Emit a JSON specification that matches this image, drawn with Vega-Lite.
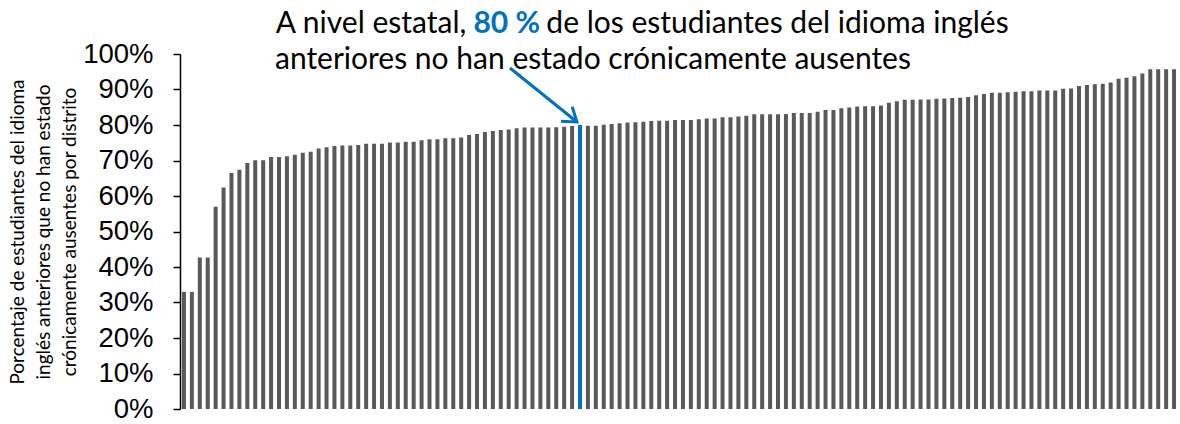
{
  "$schema": "https://vega.github.io/schema/vega-lite/v6.json",
  "autosize": "none",
  "width": 998,
  "height": 355,
  "padding": {"left": 180, "top": 54, "right": 2, "bottom": 15},
  "background": "white",
  "config": {
    "view": {"stroke": null}
  },
  "datasets": {
    "bars": [
      {"d":0,"v":33.0,"h":"n"},{"d":1,"v":33.0,"h":"n"},{"d":2,"v":42.7,"h":"n"},{"d":3,"v":42.7,"h":"n"},
      {"d":4,"v":57.0,"h":"n"},{"d":5,"v":62.4,"h":"n"},{"d":6,"v":66.5,"h":"n"},{"d":7,"v":67.4,"h":"n"},
      {"d":8,"v":69.3,"h":"n"},{"d":9,"v":70.1,"h":"n"},{"d":10,"v":70.1,"h":"n"},{"d":11,"v":71.0,"h":"n"},
      {"d":12,"v":71.0,"h":"n"},{"d":13,"v":71.2,"h":"n"},{"d":14,"v":71.6,"h":"n"},{"d":15,"v":72.2,"h":"n"},
      {"d":16,"v":72.5,"h":"n"},{"d":17,"v":73.4,"h":"n"},{"d":18,"v":73.7,"h":"n"},{"d":19,"v":74.1,"h":"n"},
      {"d":20,"v":74.2,"h":"n"},{"d":21,"v":74.2,"h":"n"},{"d":22,"v":74.4,"h":"n"},{"d":23,"v":74.7,"h":"n"},
      {"d":24,"v":74.7,"h":"n"},{"d":25,"v":74.7,"h":"n"},{"d":26,"v":75.1,"h":"n"},{"d":27,"v":75.1,"h":"n"},
      {"d":28,"v":75.3,"h":"n"},{"d":29,"v":75.3,"h":"n"},{"d":30,"v":75.7,"h":"n"},{"d":31,"v":76.0,"h":"n"},
      {"d":32,"v":76.0,"h":"n"},{"d":33,"v":76.3,"h":"n"},{"d":34,"v":76.3,"h":"n"},{"d":35,"v":76.5,"h":"n"},
      {"d":36,"v":77.2,"h":"n"},{"d":37,"v":77.5,"h":"n"},{"d":38,"v":78.0,"h":"n"},{"d":39,"v":78.3,"h":"n"},
      {"d":40,"v":78.6,"h":"n"},{"d":41,"v":78.7,"h":"n"},{"d":42,"v":79.1,"h":"n"},{"d":43,"v":79.3,"h":"n"},
      {"d":44,"v":79.3,"h":"n"},{"d":45,"v":79.3,"h":"n"},{"d":46,"v":79.3,"h":"n"},{"d":47,"v":79.4,"h":"n"},
      {"d":48,"v":79.5,"h":"n"},{"d":49,"v":79.7,"h":"n"},{"d":50,"v":80.0,"h":"y"},{"d":51,"v":79.8,"h":"n"},
      {"d":52,"v":79.8,"h":"n"},{"d":53,"v":80.1,"h":"n"},{"d":54,"v":80.3,"h":"n"},{"d":55,"v":80.5,"h":"n"},
      {"d":56,"v":80.7,"h":"n"},{"d":57,"v":80.8,"h":"n"},{"d":58,"v":80.9,"h":"n"},{"d":59,"v":81.1,"h":"n"},
      {"d":60,"v":81.2,"h":"n"},{"d":61,"v":81.2,"h":"n"},{"d":62,"v":81.4,"h":"n"},{"d":63,"v":81.4,"h":"n"},
      {"d":64,"v":81.4,"h":"n"},{"d":65,"v":81.6,"h":"n"},{"d":66,"v":81.8,"h":"n"},{"d":67,"v":81.8,"h":"n"},
      {"d":68,"v":82.2,"h":"n"},{"d":69,"v":82.2,"h":"n"},{"d":70,"v":82.4,"h":"n"},{"d":71,"v":82.6,"h":"n"},
      {"d":72,"v":83.0,"h":"n"},{"d":73,"v":83.0,"h":"n"},{"d":74,"v":83.0,"h":"n"},{"d":75,"v":83.0,"h":"n"},
      {"d":76,"v":83.1,"h":"n"},{"d":77,"v":83.4,"h":"n"},{"d":78,"v":83.4,"h":"n"},{"d":79,"v":83.4,"h":"n"},
      {"d":80,"v":83.7,"h":"n"},{"d":81,"v":84.2,"h":"n"},{"d":82,"v":84.2,"h":"n"},{"d":83,"v":84.7,"h":"n"},
      {"d":84,"v":84.9,"h":"n"},{"d":85,"v":85.2,"h":"n"},{"d":86,"v":85.3,"h":"n"},{"d":87,"v":85.3,"h":"n"},
      {"d":88,"v":85.5,"h":"n"},{"d":89,"v":86.3,"h":"n"},{"d":90,"v":86.7,"h":"n"},{"d":91,"v":87.1,"h":"n"},
      {"d":92,"v":87.1,"h":"n"},{"d":93,"v":87.2,"h":"n"},{"d":94,"v":87.2,"h":"n"},{"d":95,"v":87.4,"h":"n"},
      {"d":96,"v":87.5,"h":"n"},{"d":97,"v":87.6,"h":"n"},{"d":98,"v":87.7,"h":"n"},{"d":99,"v":87.9,"h":"n"},
      {"d":100,"v":88.4,"h":"n"},{"d":101,"v":88.7,"h":"n"},{"d":102,"v":89.1,"h":"n"},{"d":103,"v":89.1,"h":"n"},
      {"d":104,"v":89.2,"h":"n"},{"d":105,"v":89.4,"h":"n"},{"d":106,"v":89.5,"h":"n"},{"d":107,"v":89.5,"h":"n"},
      {"d":108,"v":89.7,"h":"n"},{"d":109,"v":89.7,"h":"n"},{"d":110,"v":89.7,"h":"n"},{"d":111,"v":90.2,"h":"n"},
      {"d":112,"v":90.3,"h":"n"},{"d":113,"v":91.0,"h":"n"},{"d":114,"v":91.3,"h":"n"},{"d":115,"v":91.5,"h":"n"},
      {"d":116,"v":91.6,"h":"n"},{"d":117,"v":92.0,"h":"n"},{"d":118,"v":93.0,"h":"n"},{"d":119,"v":93.3,"h":"n"},
      {"d":120,"v":93.7,"h":"n"},{"d":121,"v":94.5,"h":"n"},{"d":122,"v":95.7,"h":"n"},{"d":123,"v":95.7,"h":"n"},
      {"d":124,"v":95.7,"h":"n"},{"d":125,"v":95.7,"h":"n"}
    ],
    "notes": [
      {"d":11.6,"v":105.9,"t":"A nivel estatal,","k":"plain"},
      {"d":36.55,"v":105.9,"t":"80 %","k":"bold"},
      {"d":45.75,"v":105.9,"t":"de los estudiantes del idioma inglés","k":"plain"},
      {"d":11.49,"v":95.8,"t":"anteriores no han estado crónicamente ausentes","k":"plain"}
    ],
    "arrow": [
      {"d":41.16,"v":96.06,"c":49.62,"e":80.85}
    ],
    "head": [
      {"d":47.60,"v":81.05,"o":0},
      {"d":49.62,"v":80.85,"o":1},
      {"d":49.01,"v":85.15,"o":2}
    ]
  },
  "encoding": {
    "x": {"field": "d", "type": "quantitative", "scale": {"domain": [-0.5, 125.5], "nice": false, "zero": false, "padding": 0}, "axis": null},
    "y": {"field": "v", "type": "quantitative", "scale": {"domain": [0, 100], "nice": false},
      "axis": {
        "values": [0,10,20,30,40,50,60,70,80,90,100],
        "labelExpr": "datum.value + '%'",
        "labelOverlap": false,
        "labelFont": "Liberation Sans", "labelFontSize": 27.5, "labelColor": "#000000", "labelPadding": 20,
        "domainColor": "#000000", "domainWidth": 1.5, "tickColor": "#000000", "tickWidth": 1.5, "tickSize": 7,
        "grid": false,
        "title": ["Porcentaje de estudiantes del idioma", "inglés anteriores que no han estado", "crónicamente ausentes por distrito"],
        "titleFont": "Lato", "titleFontSize": 19, "titleFontWeight": "normal", "titleColor": "#000000",
        "titleLineHeight": 26, "titlePadding": 3
      }
    }
  },
  "layer": [
    {
      "data": {"name": "bars"},
      "mark": {"type": "bar", "size": 4},
      "encoding": {
        "color": {"field": "h", "type": "nominal", "scale": {"domain": ["n","y"], "range": ["#595959","#0070C0"]}, "legend": null}
      }
    },
    {
      "data": {"name": "arrow"},
      "mark": {"type": "rule", "color": "#0070C0", "strokeWidth": 3},
      "encoding": {
        "x2": {"field": "c"},
        "y2": {"field": "e"}
      }
    },
    {
      "data": {"name": "head"},
      "mark": {"type": "line", "color": "#0070C0", "strokeWidth": 3, "strokeJoin": "miter", "strokeCap": "butt"},
      "encoding": {
        "order": {"field": "o", "type": "quantitative"}
      }
    },
    {
      "data": {"name": "notes"},
      "transform": [{"filter": "datum.k === 'plain'"}],
      "mark": {"type": "text", "align": "left", "baseline": "alphabetic", "font": "Lato", "fontSize": 30, "color": "#000000"},
      "encoding": {
        "text": {"field": "t"}
      }
    },
    {
      "data": {"name": "notes"},
      "transform": [{"filter": "datum.k === 'bold'"}],
      "mark": {"type": "text", "align": "left", "baseline": "alphabetic", "font": "Lato", "fontSize": 30, "fontWeight": "bold", "color": "#0070C0"},
      "encoding": {
        "text": {"field": "t"}
      }
    }
  ]
}
